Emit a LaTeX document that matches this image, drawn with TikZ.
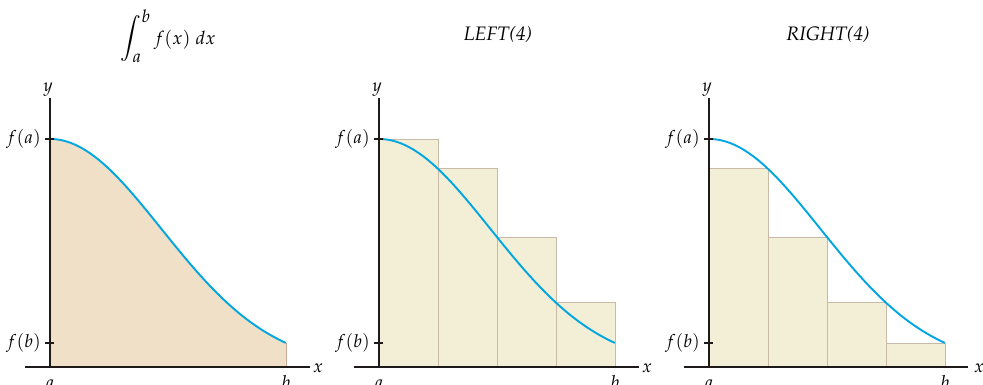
\documentclass[tikz,border=0pt]{standalone}
\usepackage[T1]{fontenc}
\usepackage{mathpazo}
\definecolor{curveblue}{RGB}{0,166,226}
\definecolor{areafill}{RGB}{240,224,200}
\definecolor{areaedge}{RGB}{200,170,150}
\definecolor{rectfill}{RGB}{243,238,214}
\definecolor{rectedge}{RGB}{201,186,168}
\definecolor{axiscol}{RGB}{30,26,26}
\tikzset{
  axisline/.style={draw=axiscol,line width=1.7pt},
  tickline/.style={draw=axiscol,line width=1.1pt},
  curveline/.style={draw=curveblue,line width=1.9pt},
  riemann/.style={fill=rectfill,draw=rectedge,line width=0.9pt},
  lbl/.style={inner sep=0pt,font=\fontsize{18}{21}\selectfont},
  ttl/.style={inner sep=0pt,font=\fontsize{19.5}{23}\selectfont},
}
\begin{document}
\begin{tikzpicture}[x=1pt,y=-1pt]
\useasboundingbox (0,0) rectangle (983,384);
\clip (0,0) rectangle (983,384);
% ---------- panel 1 ----------
\begin{scope}[xshift=50pt]
  \fill[areafill] (0,367) -- plot[domain=0:1,samples=80,variable=\t] ({236*\t},{367-228*exp(-2.25*\t*\t)}) -- (236,367) -- cycle;
  \draw[areaedge,line width=0.9pt] (236,343) -- (236,367);
  \draw[curveline] plot[domain=0:1,samples=80,variable=\t] ({236*\t},{367-228*exp(-2.25*\t*\t)});
  \coordinate (p1yb) at (0,367);
  \coordinate (p1yt) at (0,98);
  \coordinate (p1xl) at (-25,367);
  \coordinate (p1xr) at (260,367);
  \draw[axisline] (p1yb) -- (p1yt);
  \draw[axisline] (p1xl) -- (p1xr);
  \coordinate (p1ta) at (-5,139); \coordinate (p1ta2) at (4,139);
  \coordinate (p1tb) at (-5,343); \coordinate (p1tb2) at (4,343);
  \draw[tickline] (p1ta) -- (p1ta2);
  \draw[tickline] (p1tb) -- (p1tb2);
  \node[lbl,anchor=east] (p1fa) at (-9,139) {$f(a)$};
  \node[lbl,anchor=east] (p1fb) at (-9,343) {$f(b)$};
  \node[lbl,anchor=base] (p1y) at (-2,91) {$y$};
  \node[lbl,anchor=base west] (p1x) at (263,372) {$x$};
  \node[lbl,anchor=base] (p1a) at (0,388) {$a$};
  \node[lbl,anchor=base] (p1b) at (236,388) {$b$};
  \node[ttl,font=\fontsize{18.5}{22}\selectfont] (p1t) at (118,36) {{\fontsize{23}{26}\selectfont$\displaystyle\int_a^b$}\,$f(x)\;dx$};
\end{scope}
% ---------- panel 2 ----------
\begin{scope}[xshift=379pt]
  \foreach \i in {0,1,2,3}{
    \draw[riemann] ({59*\i},367) rectangle ({59*(\i+1)},{367-228*exp(-2.25*(\i/4)*(\i/4))});
  }
  \draw[curveline] plot[domain=0:1,samples=80,variable=\t] ({236*\t},{367-228*exp(-2.25*\t*\t)});
  \coordinate (p2yb) at (0,367);
  \coordinate (p2yt) at (0,98);
  \coordinate (p2xl) at (-25,367);
  \coordinate (p2xr) at (260,367);
  \draw[axisline] (p2yb) -- (p2yt);
  \draw[axisline] (p2xl) -- (p2xr);
  \coordinate (p2ta) at (-5,139); \coordinate (p2ta2) at (4,139);
  \coordinate (p2tb) at (-5,343); \coordinate (p2tb2) at (4,343);
  \draw[tickline] (p2ta) -- (p2ta2);
  \draw[tickline] (p2tb) -- (p2tb2);
  \node[lbl,anchor=east] (p2fa) at (-9,139) {$f(a)$};
  \node[lbl,anchor=east] (p2fb) at (-9,343) {$f(b)$};
  \node[lbl,anchor=base] (p2y) at (-2,91) {$y$};
  \node[lbl,anchor=base west] (p2x) at (263,372) {$x$};
  \node[lbl,anchor=base] (p2a) at (0,388) {$a$};
  \node[lbl,anchor=base] (p2b) at (236,388) {$b$};
  \node[ttl] (p2t) at (119,35) {\textit{LEFT(4)}};
\end{scope}
% ---------- panel 3 ----------
\begin{scope}[xshift=709pt]
  \foreach \i in {1,2,3,4}{
    \draw[riemann] ({59*(\i-1)},367) rectangle ({59*\i},{367-228*exp(-2.25*(\i/4)*(\i/4))});
  }
  \draw[curveline] plot[domain=0:1,samples=80,variable=\t] ({236*\t},{367-228*exp(-2.25*\t*\t)});
  \coordinate (p3yb) at (0,367);
  \coordinate (p3yt) at (0,98);
  \coordinate (p3xl) at (-25,367);
  \coordinate (p3xr) at (259,367);
  \draw[axisline] (p3yb) -- (p3yt);
  \draw[axisline] (p3xl) -- (p3xr);
  \coordinate (p3ta) at (-5,139); \coordinate (p3ta2) at (4,139);
  \coordinate (p3tb) at (-5,343); \coordinate (p3tb2) at (4,343);
  \draw[tickline] (p3ta) -- (p3ta2);
  \draw[tickline] (p3tb) -- (p3tb2);
  \node[lbl,anchor=east] (p3fa) at (-9,139) {$f(a)$};
  \node[lbl,anchor=east] (p3fb) at (-9,343) {$f(b)$};
  \node[lbl,anchor=base] (p3y) at (-2,91) {$y$};
  \node[lbl,anchor=base west] (p3x) at (265,372) {$x$};
  \node[lbl,anchor=base] (p3a) at (0,388) {$a$};
  \node[lbl,anchor=base] (p3b) at (236,388) {$b$};
  \node[ttl] (p3t) at (119,35) {\textit{RIGHT(4)}};
\end{scope}
\end{tikzpicture}
\end{document}
